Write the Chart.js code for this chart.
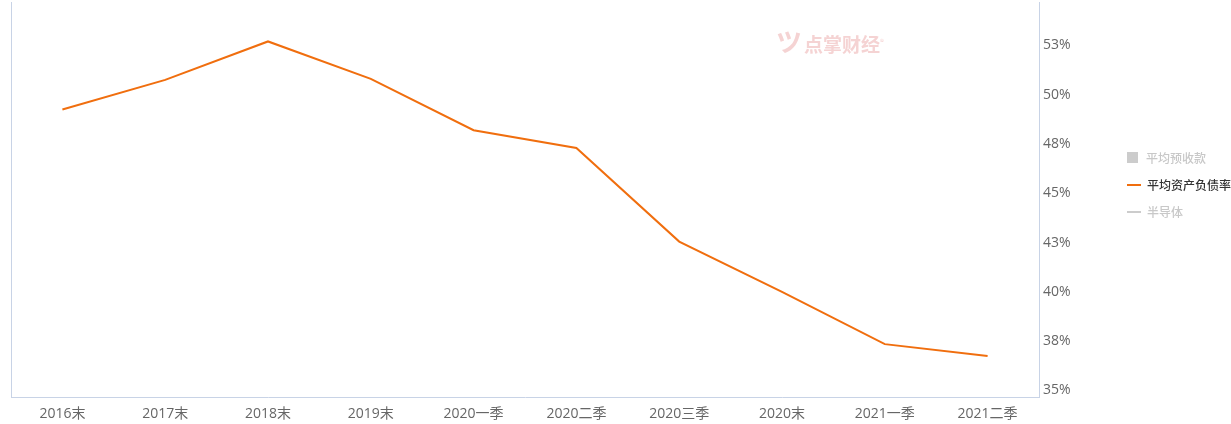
<!DOCTYPE html>
<html>
<head>
<meta charset="utf-8">
<script src="https://cdn.jsdelivr.net/npm/chart.js@4.4.0/dist/chart.umd.min.js"></script>
<style>
  body { margin: 0; background: #fff; font-family: "Noto Sans CJK SC", sans-serif; }
  #wrap { position: relative; width: 1231px; height: 424px; overflow: hidden; }
  #legend { position: absolute; left: 1127px; top: 144px; font-size: 12px; font-weight: 500; white-space: nowrap; }
  #legend div { height: 27px; display: flex; align-items: center; }
  #legend .sq { width: 11px; height: 11px; background: #ccc; margin-right: 8px; }
  #legend .ln { width: 14px; height: 2px; margin-right: 6px; }
  #mark { position: absolute; left: 776px; top: 22px; color: #f5d3d3; font-size: 19px; font-weight: bold; }
  #mark .ic { font-size: 26px; margin-right: 2px; }
  #mark sup { font-size: 8px; font-weight: normal; }
</style>
</head>
<body>
<div id="wrap">
  <canvas id="myChart" width="1231" height="424"></canvas>
  <div id="mark"><span class="ic">ツ</span>点掌财经<sup>®</sup></div>
  <div id="legend">
    <div style="color:#c8c8c8"><span class="sq"></span>平均预收款</div>
    <div style="color:#333"><span class="ln" style="background:#f06e0e"></span>平均资产负债率</div>
    <div style="color:#c8c8c8"><span class="ln" style="background:#ccc"></span>半导体</div>
  </div>
</div>
<script>
var labels = ['2016末', '2017末', '2018末', '2019末', '2020一季', '2020二季', '2020三季', '2020末', '2021一季', '2021二季'];
var debtRatio = [49.25, 50.75, 52.7, 50.8, 48.2, 47.3, 42.55, 40.0, 37.35, 36.75];
var tickValues = [35, 37.5, 40, 42.5, 45, 47.5, 50, 52.5];
var tickFont = { size: 14, family: "'Open Sans', 'Noto Sans CJK SC'" };

var ctx = document.getElementById('myChart').getContext('2d');
var myChart = new Chart(ctx, {
  type: 'line',
  data: {
    labels: labels,
    datasets: [{
      label: '平均资产负债率',
      data: debtRatio,
      borderColor: '#f06e0e',
      borderWidth: 2,
      pointRadius: 0,
      tension: 0,
      yAxisID: 'y'
    }]
  },
  options: {
    responsive: false,
    animation: false,
    layout: { padding: { top: 2, left: 0, right: 0, bottom: 0 } },
    plugins: { legend: { display: false }, tooltip: { enabled: false } },
    scales: {
      x: {
        offset: true,
        grid: { display: false, drawTicks: false },
        border: { color: '#c8d3e6' },
        ticks: { color: '#666', font: tickFont, padding: 9, maxRotation: 0, autoSkip: false },
        afterFit: function (s) { s.height = 27; s.paddingLeft = 0; s.paddingRight = 0; }
      },
      y: {
        position: 'right',
        min: 34.67,
        max: 54.7,
        grid: { display: false, drawTicks: false },
        border: { color: '#c8d3e6' },
        afterBuildTicks: function (s) { s.ticks = tickValues.map(function (v) { return { value: v }; }); },
        ticks: {
          color: '#666',
          font: tickFont,
          padding: 4,
          callback: function (v) { return Math.round(v) + '%'; }
        },
        afterFit: function (s) { s.width = 192; s.paddingTop = 0; s.paddingBottom = 0; }
      },
      left: {
        position: 'left',
        min: 0, max: 1,
        grid: { display: false, drawTicks: false },
        border: { color: '#c8d3e6' },
        ticks: { display: false },
        afterFit: function (s) { s.width = 11; s.paddingTop = 0; s.paddingBottom = 0; }
      }
    }
  }
});
</script>
</body>
</html>
